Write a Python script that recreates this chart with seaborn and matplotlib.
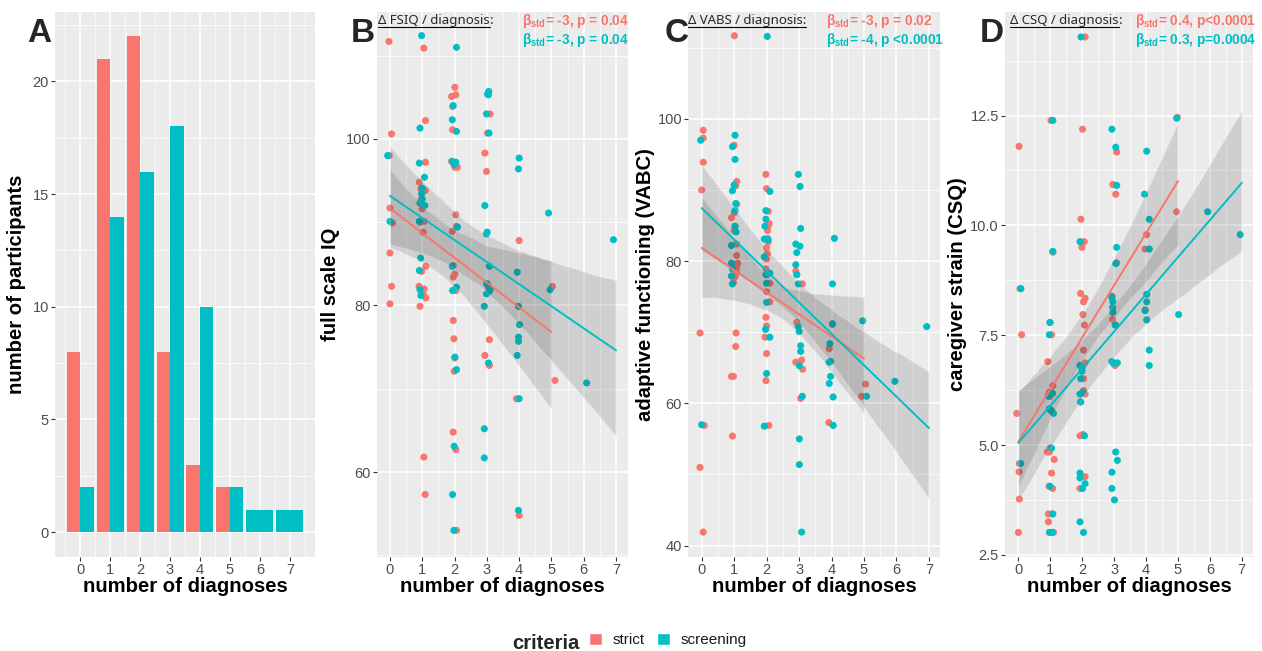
import numpy as np
import pandas as pd
import seaborn as sns
import matplotlib.pyplot as plt
from matplotlib.patches import Patch
from matplotlib.lines import Line2D
from matplotlib.ticker import MultipleLocator, FixedLocator

# ---- panel A: counts per number of diagnoses ----
diag_counts = [0, 1, 2, 3, 4, 5, 6, 7]
strict_counts = [8, 21, 22, 8, 3, 2]
screen_counts = [2, 14, 16, 18, 10, 2, 1, 1]

# ---- panel B: full scale IQ (x = jittered number of diagnoses) ----
b_strict_x = [-0.03, 0.05, -0.02, 0.0, 0.08, 0.0, 0.05, 0.0,
              1.05, 1.10, 1.10, 0.91, 0.96, 1.09, 1.00, 1.06, 1.03, 1.11, 0.98, 0.90, 1.06, 1.11, 0.93, 1.05, 1.09, 0.98, 1.03, 0.96, 0.93,
              2.01, 1.91, 2.04, 1.94, 1.94, 2.01, 2.09, 2.04, 1.93, 1.96, 2.01, 1.96, 2.04, 1.96, 1.98, 2.01, 1.99, 1.96, 2.04, 2.06, 1.91, 2.06,
              3.10, 3.02, 2.94, 2.99, 3.08, 2.94, 3.08, 2.99,
              4.0, 3.92, 4.0,
              5.03, 5.11]
b_strict_y = [111.7, 100.6, 98.0, 91.7, 89.9, 86.3, 82.3, 80.2,
              110.9, 102.2, 97.2, 94.8, 94.0, 93.8, 91.6, 90.1, 88.8, 84.7, 84.1, 82.3, 82.0, 80.9, 79.9, 61.8, 57.3, 92.3, 81.4, 92.7, 90.0,
              106.2, 105.1, 105.3, 103.9, 101.1, 96.6, 96.6, 90.9, 88.9, 84.8, 83.8, 83.4, 81.8, 78.2, 76.0, 73.7, 72.1, 64.8, 62.7, 53.0, 97.3, 89.5,
              103.0, 100.7, 98.3, 96.1, 75.9, 74.0, 72.8, 82.6,
              87.8, 68.8, 54.8,
              82.3, 71.0]
b_screen_x = [-0.07, 0.0,
              0.98, 0.93, 0.91, 1.07, 1.00, 0.98, 0.93, 1.08, 0.91, 0.95, 0.91, 0.93, 0.96, 1.00,
              2.06, 1.96, 1.93, 2.06, 1.93, 2.04, 2.09, 1.93, 1.94, 2.06, 2.01, 2.06, 1.99, 1.94, 1.98, 1.99,
              3.06, 3.05, 2.99, 3.07, 2.94, 3.01, 3.08, 3.01, 3.10, 2.99, 3.05, 2.92, 3.05, 2.92, 2.92, 2.99, 3.02, 3.08,
              4.0, 3.98, 3.94, 3.98, 4.01, 3.98, 3.98, 3.94, 4.0, 3.98,
              4.91, 4.96, 6.09, 6.92]
b_screen_y = [98.0, 90.1,
              112.4, 101.3, 97.1, 95.4, 94.1, 93.4, 92.3, 92.0, 90.1, 85.7, 84.2, 81.9, 81.2, 92.8,
              111.0, 104.0, 102.3, 100.9, 97.3, 97.2, 89.4, 84.7, 81.8, 82.2, 73.8, 72.3, 63.1, 57.3, 53.0, 96.9,
              105.7, 105.3, 103.0, 100.7, 92.0, 88.8, 84.7, 82.6, 81.9, 81.4, 82.2, 79.9, 73.1, 65.2, 61.7, 88.6, 105.4, 81.7,
              97.7, 96.4, 84.0, 79.9, 77.7, 76.2, 75.7, 74.0, 68.8, 55.4,
              91.1, 81.9, 70.7, 87.9]

# ---- panel C: adaptive functioning (VABC) ----
c_strict_x = [0.05, 0.05, 0.05, 0.0, -0.05, 0.08, -0.05, 0.05,
              1.01, 1.0, 1.08, 1.05, 1.08, 0.92, 1.08, 1.11, 1.08, 1.08, 0.98, 1.06, 1.05, 0.92, 0.98, 0.95, 1.03, 1.0, 1.08, 1.03, 1.01,
              1.98, 2.0, 2.05, 2.05, 2.03, 2.0, 2.03, 2.0, 2.02, 2.1, 2.1, 1.98, 2.0, 1.95, 2.0, 1.98, 2.07, 2.05, 2.08, 1.98, 2.03, 2.0,
              2.9, 2.93, 3.1, 2.93, 2.9, 3.08, 3.11, 3.05,
              4.03, 3.93, 3.92,
              5.05, 4.93]
c_strict_y = [98.4, 97.3, 93.9, 90.0, 69.9, 56.9, 51.0, 41.9,
              111.7, 96.3, 91.2, 90.6, 88.0, 86.1, 82.4, 79.7, 79.1, 78.3, 77.0, 69.9, 68.0, 63.8, 63.8, 55.4, 84.9, 84.3, 80.8, 77.8, 86.8,
              92.2, 90.2, 87.0, 85.0, 83.2, 81.9, 81.1, 80.3, 78.1, 76.9, 74.3, 72.1, 70.9, 69.3, 67.0, 63.2, 56.9, 82.7, 85.3, 78.9, 84.3, 75.7,
              78.6, 78.1, 76.8, 71.4, 65.8, 66.1, 64.8, 60.7,
              71.1, 67.7, 57.3,
              62.7, 61.0]
c_screen_x = [-0.03, 0.0,
              1.03, 0.95, 1.03, 1.0, 0.95, 1.05, 1.03, 1.03, 1.06, 0.92, 0.92, 0.95, 0.92, 0.95,
              2.02, 2.1, 1.98, 1.98, 1.95, 1.93, 2.05, 1.93, 1.98, 2.1, 2.0, 2.0, 1.97, 2.1, 2.0, 1.93,
              2.98, 3.03, 3.05, 2.9, 3.03, 2.93, 2.9, 2.93, 2.98, 2.98, 3.0, 3.05, 3.05, 3.01, 3.1, 3.01, 3.01, 3.08,
              4.09, 4.03, 4.03, 3.95, 3.97, 3.93, 3.97, 3.93, 4.05, 4.05,
              4.96, 5.08, 5.95, 6.93]
c_screen_y = [97.0, 57.0,
              97.7, 96.1, 94.3, 90.7, 89.9, 88.1, 87.1, 84.9, 84.1, 82.2, 79.7, 78.9, 77.9, 76.8,
              111.6, 89.8, 87.1, 85.9, 84.9, 83.1, 83.0, 80.6, 78.1, 78.3, 76.9, 74.2, 70.4, 69.3, 64.2, 56.8,
              92.2, 90.5, 84.6, 82.4, 82.1, 81.2, 79.5, 78.1, 76.8, 70.8, 70.1, 68.1, 67.3, 65.3, 61.0, 55.0, 51.4, 41.9,
              83.2, 76.8, 71.2, 68.4, 65.9, 65.8, 63.8, 62.8, 60.9, 56.9,
              71.6, 61.0, 63.1, 70.8]

# ---- panel D: caregiver strain (CSQ) ----
d_strict_x = [0.02, 0.1, -0.05, 0.02, 0.03, 0.0, 0.05, 0.03,
              1.02, 0.92, 0.97, 1.08, 1.03, 0.91, 0.97, 1.12, 1.04, 0.96, 1.07, 0.94, 0.94, 1.02, 1.1, 0.99, 1.04, 1.08, 0.99, 1.04, 0.99,
              2.09, 2.01, 1.96, 1.99, 2.06, 1.95, 2.09, 2.04, 2.02, 2.07, 2.04, 2.09, 2.02, 2.04, 2.09, 1.93, 2.09, 1.93, 2.02, 1.99, 2.04, 1.95,
              2.96, 3.05, 3.08, 3.08, 2.95, 3.03, 2.93, 3.05,
              4.02, 3.97, 3.97,
              4.98, 4.96]
d_strict_y = [11.80, 7.51, 5.72, 4.39, 3.77, 3.01, 8.56, 4.58,
              12.39, 6.90, 6.20, 6.35, 5.78, 4.84, 4.84, 4.67, 4.36, 4.06, 4.01, 3.43, 3.25, 3.01, 3.01, 7.79, 7.51, 9.39, 4.93, 3.43, 6.11,
              14.29, 12.19, 10.14, 9.50, 9.63, 8.45, 8.34, 8.26, 7.97, 7.73, 7.16, 6.87, 6.81, 6.51, 6.16, 5.21, 4.28, 4.01, 5.24, 6.76, 6.24, 5.98,
              10.93, 10.71, 11.67, 9.15, 7.86, 6.81, 8.39, 7.73,
              9.79, 9.46, 8.08,
              12.46, 10.31]
d_screen_x = [0.08, 0.07,
              1.08, 1.08, 0.99, 0.97, 0.94, 1.07, 0.97, 1.10, 1.04, 0.99, 1.08, 0.97, 1.06, 1.03,
              1.96, 1.93, 1.93, 1.99, 1.95, 1.93, 2.02, 1.95, 2.07, 1.93, 1.93, 2.01, 2.09, 1.93, 2.04, 1.99,
              2.93, 3.05, 3.08, 3.08, 3.05, 2.93, 2.96, 2.96, 3.03, 2.93, 3.1, 3.05, 3.1, 2.93, 2.93, 3.01, 2.98, 2.95,
              4.02, 3.95, 4.1, 4.1, 4.02, 3.97, 4.02, 4.1, 4.1, 4.02,
              4.96, 5.02, 5.93, 6.95]
d_screen_y = [8.56, 4.58,
              12.39, 9.41, 7.79, 7.51, 6.11, 6.18, 5.82, 5.72, 4.93, 4.06, 3.43, 3.01, 3.01, 5.78,
              14.29, 9.63, 6.81, 6.68, 6.51, 6.16, 6.20, 5.98, 5.21, 4.36, 4.25, 4.01, 4.12, 3.25, 3.01, 6.76,
              12.19, 11.78, 10.91, 9.50, 9.13, 8.36, 8.26, 8.02, 7.73, 6.90, 6.87, 4.84, 4.65, 4.38, 4.01, 3.75, 6.86, 8.13,
              11.69, 10.71, 10.14, 9.46, 8.43, 8.06, 7.85, 7.16, 6.81, 8.26,
              12.44, 7.97, 10.31, 9.79]

RED = "#F8766D"
TEAL = "#00BFC4"
pal = {"strict": RED, "screening": TEAL}

sns.set_theme(style="darkgrid", rc={"axes.facecolor": "#EBEBEB", "grid.color": "white",
                                    "axes.edgecolor": "#EBEBEB"})
plt.rcParams["font.family"] = ["Liberation Sans", "DejaVu Sans"]
plt.rcParams["mathtext.fontset"] = "custom"
plt.rcParams["mathtext.rm"] = "Liberation Sans:bold"
plt.rcParams["mathtext.bf"] = "Liberation Sans:bold"

W, H = 1262, 651
fig = plt.figure(figsize=(W / 100, H / 100), dpi=100)
fig.patch.set_facecolor("white")


def add_ax(left, right, top=11.5, bottom=557):
    return fig.add_axes([left / W, (H - bottom) / H, (right - left) / W, (bottom - top) / H])


def style_ax(ax, xlim, ylim, yticks, yminor, ylabel, ylab_x, ytl=None):
    ax.set_xlim(*xlim)
    ax.set_ylim(*ylim)
    ax.xaxis.set_major_locator(FixedLocator(range(8)))
    ax.xaxis.set_minor_locator(MultipleLocator(0.5))
    ax.yaxis.set_major_locator(FixedLocator(yticks))
    ax.yaxis.set_minor_locator(FixedLocator(yminor))
    if ytl is not None:
        ax.set_yticklabels(ytl)
    ax.grid(which="major", color="white", lw=1.1)
    ax.grid(which="minor", color="white", lw=0.5)
    ax.set_axisbelow(True)
    ax.tick_params(which="major", length=3, width=0.8, color="#333333", labelsize=10.5,
                   labelcolor="#4D4D4D", pad=1.5, bottom=True, left=True)
    ax.tick_params(which="minor", length=0)
    for s in ax.spines.values():
        s.set_visible(False)
    ax.set_xlabel("number of diagnoses", fontsize=14.6, fontweight="bold", color="black")
    ax.set_ylabel(ylabel, fontsize=14.6, fontweight="bold", color="black")
    ax.xaxis.set_label_coords(0.5, -0.037)
    ax.yaxis.set_label_coords(ylab_x, 0.5)


# ---- A ----
axA = add_ax(55, 315)
bars = pd.DataFrame({
    "n": diag_counts[:6] * 2,
    "count": strict_counts + screen_counts[:6],
    "criteria": ["strict"] * 6 + ["screening"] * 6,
})
sns.barplot(data=bars, x="n", y="count", hue="criteria", hue_order=["strict", "screening"],
            palette=pal, width=0.9, native_scale=True, legend=False, ax=axA,
            saturation=1, linewidth=0)
sns.barplot(x=diag_counts[6:], y=screen_counts[6:], color=TEAL, width=0.9,
            native_scale=True, ax=axA, saturation=1, linewidth=0)
style_ax(axA, (-0.84, 7.84), (-1.1, 23.1), [0, 5, 10, 15, 20], [2.5, 7.5, 12.5, 17.5, 22.5],
         "number of participants", -0.11)


def panel_frame(sx, sy, tx, ty):
    df = pd.DataFrame({"x": sx + tx, "y": sy + ty,
                       "criteria": ["strict"] * len(sx) + ["screening"] * len(tx)})
    df["n"] = df["x"].round()
    return df


def draw_scatter(ax, df):
    sns.scatterplot(data=df, x="x", y="y", hue="criteria", hue_order=["strict", "screening"],
                    palette=pal, s=26, linewidth=0, legend=False, ax=ax)
    for crit in ["strict", "screening"]:
        sub = df[df.criteria == crit]
        sns.regplot(data=sub, x="n", y="y", scatter=False, color="#333333", seed=3,
                    line_kws={"alpha": 0}, ax=ax)
    for crit in ["strict", "screening"]:
        sub = df[df.criteria == crit]
        sns.regplot(data=sub, x="n", y="y", scatter=False, ci=None, color=pal[crit],
                    line_kws={"lw": 1.4}, ax=ax)


axB = add_ax(376.7, 628.3)
draw_scatter(axB, panel_frame(b_strict_x, b_strict_y, b_screen_x, b_screen_y))
style_ax(axB, (-0.41, 7.38), (49.8, 115.3), [60, 80, 100], [50, 70, 90, 110], "full scale IQ", -0.146)

axC = add_ax(688.3, 940)
draw_scatter(axC, panel_frame(c_strict_x, c_strict_y, c_screen_x, c_screen_y))
style_ax(axC, (-0.41, 7.34), (38.4, 115.1), [40, 60, 80, 100], [50, 70, 90, 110],
         "adaptive functioning (VABC)", -0.132)

axD = add_ax(1005, 1253.3)
draw_scatter(axD, panel_frame(d_strict_x, d_strict_y, d_screen_x, d_screen_y))
style_ax(axD, (-0.42, 7.36), (2.45, 14.87), [2.5, 5, 7.5, 10, 12.5], [3.75, 6.25, 8.75, 11.25, 13.75],
         "caregiver strain (CSQ)", -0.153, ["2.5", "5.0", "7.5", "10.0", "12.5"])

# panel letters
for letter, x in [("A", 27), ("B", 351), ("C", 665), ("D", 980)]:
    fig.text(x / W, 1 - 42 / H, letter, fontsize=24, fontweight="bold", va="baseline")

# annotations
notes = [
    (378, "\u0394 FSIQ / diagnosis", ":", 522, "= -3, p = 0.04", "= -3, p = 0.04"),
    (688, "\u0394 VABS / diagnosis:", "", 826, "= -3, p = 0.02", "= -4, p <0.0001"),
    (1010, "\u0394 CSQ / diagnosis", ":", 1135, "= 0.4, p<0.0001", "= 0.3, p=0.0004"),
]
fig.canvas.draw()
renderer = fig.canvas.get_renderer()
for x0, head, tail, bx, s1, s2 in notes:
    t = fig.text(x0 / W, 1 - 24 / H, head, fontsize=9.5, family=["Noto Sans", "DejaVu Sans"], va="baseline")
    bb = t.get_window_extent(renderer)
    fig.add_artist(Line2D([bb.x0 / W, bb.x1 / W], [1 - 27 / H, 1 - 27 / H], color="black", lw=0.8))
    if tail:
        fig.text(bb.x1 / W, 1 - 24 / H, tail, fontsize=9.5, family=["Noto Sans", "DejaVu Sans"], va="baseline")
    fig.text(bx / W, 1 - 25 / H, "\u03b2$_{\\mathbf{std}}$" + s1, fontsize=9.8, fontweight="bold",
             color=RED, va="baseline")
    fig.text(bx / W, 1 - 44 / H, "\u03b2$_{\\mathbf{std}}$" + s2, fontsize=9.8, fontweight="bold",
             color=TEAL, va="baseline")

# legend
fig.text(512 / W, 1 - 649 / H, "criteria", fontsize=14.6, fontweight="bold", va="baseline")
fig.legend(handles=[Patch(facecolor=RED), Patch(facecolor=TEAL)], labels=["strict", "screening"],
           ncol=2, frameon=False, loc="center left", bbox_to_anchor=(589 / W, 1 - 640 / H),
           fontsize=11, handlelength=0.85, handleheight=0.85, handletextpad=0.7,
           columnspacing=0.8, borderpad=0, borderaxespad=0, labelcolor="#1A1A1A")

plt.savefig("out.png", dpi=100)
